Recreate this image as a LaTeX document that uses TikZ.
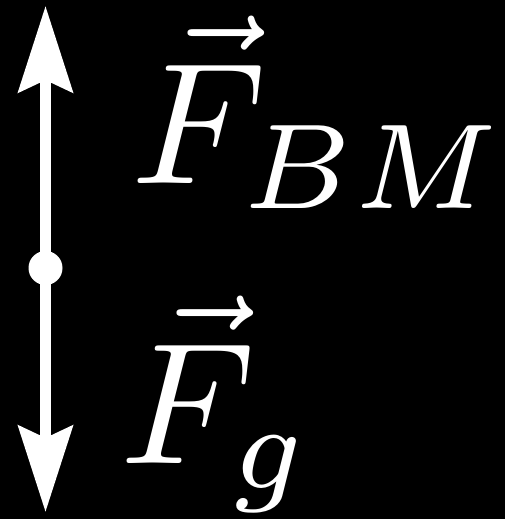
\documentclass[tikz,border=0pt]{standalone}
\usetikzlibrary{arrows.meta}
\begin{document}
\begin{tikzpicture}[x=1pt,y=-1pt,
  force/.style={line width=11pt,white,-{Stealth[length=86pt,width=54pt,inset=12pt]}},
  lbl/.style={white,inner sep=0pt,anchor=base west,scale=17.3}]
\useasboundingbox[fill=black] (0,0) rectangle (505,519);
\coordinate (c) at (45.5,268);
\coordinate (top) at (45.5,6);
\coordinate (bot) at (45.5,512);
\draw[force] (c) -- (top);
\draw[force] (c) -- (bot);
\fill[white] (c) circle (17);
\node[lbl] (fbm) at (128,183) {$\vec{F}_{BM}$};
\node[lbl] (fg) at (117,463) {$\vec{F}_{g}$};
\end{tikzpicture}
\end{document}
